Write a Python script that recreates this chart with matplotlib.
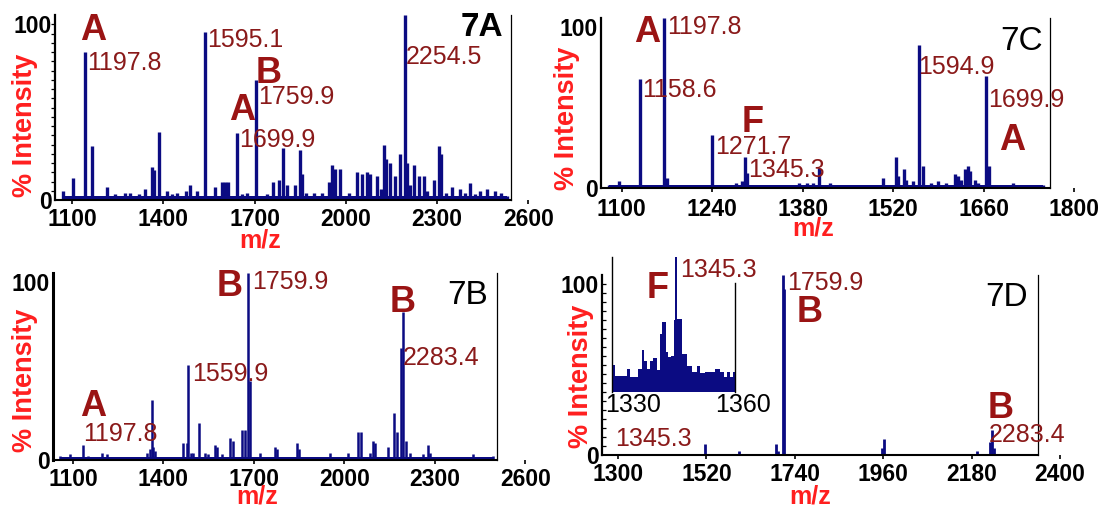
import matplotlib
matplotlib.use("Agg")
import matplotlib.pyplot as plt

plt.rcParams["font.family"] = ["Liberation Sans", "DejaVu Sans"]

W, H = 1103, 507
NAVY = "#0b0b82"
DARKRED = "#8a1a1a"
RED = "#ff1f1f"

# ---- data (m/z, % intensity) ----
mz_a = [1071, 1104, 1143, 1165, 1214, 1240, 1274, 1291, 1320, 1340, 1362, 1370, 1387,
        1411, 1430, 1444, 1475, 1488, 1510, 1538, 1570, 1592, 1603, 1614, 1642, 1660,
        1675, 1705, 1740, 1762, 1779, 1793, 1808, 1834, 1850, 1856, 1870, 1894, 1920,
        1945, 1954, 1965, 1982, 2009, 2037, 2053, 2069, 2080, 2102, 2114, 2124, 2133,
        2146, 2162, 2179, 2193, 2201, 2212, 2223, 2239, 2256, 2267, 2289, 2305, 2311,
        2330, 2349, 2376, 2390, 2409, 2425, 2442, 2464, 2490, 2510, 2530]
int_a = [5, 12, 80, 29, 7, 3, 4, 4, 3, 6, 18, 16, 37,
         5, 3, 4, 5, 8, 5, 91, 7, 10, 10, 10, 36, 3,
         4, 65, 3, 10, 11, 28, 8, 8, 27, 14, 4, 4, 4,
         10, 19, 17, 17, 4, 15, 14, 15, 14, 13, 6, 30, 22,
         20, 13, 25, 100, 20, 8, 19, 13, 13, 5, 11, 29, 25,
         4, 7, 6, 4, 9, 3, 5, 6, 5, 4, 2]
floor_a = 2

mz_b = [1057, 1090, 1132, 1151, 1198, 1212, 1344, 1355, 1361, 1366, 1372, 1466, 1477,
        1482, 1490, 1499, 1519, 1538, 1548, 1571, 1578, 1593, 1620, 1629, 1661, 1670,
        1681, 1687, 1720, 1770, 1777, 1843, 1850, 1952, 2012, 2046, 2055, 2084, 2095,
        2101, 2145, 2165, 2173, 2189, 2195, 2204, 2217, 2261, 2278, 2283, 2427, 2493]
int_b = [2, 3, 8, 2, 4, 3, 4, 6, 32, 7, 5, 9, 9,
         51, 4, 4, 20, 4, 3, 8, 7, 3, 12, 10, 16, 16,
         100, 42, 4, 7, 6, 9, 6, 4, 4, 15, 15, 4, 10,
         9, 7, 25, 15, 60, 79, 10, 4, 3, 8, 4, 3, 2]
floor_b = 1.5

mz_c = [1081, 1096, 1112, 1128, 1148, 1165, 1170, 1185, 1200, 1222, 1239, 1252, 1262,
        1277, 1286, 1291, 1294, 1313, 1334, 1355, 1375, 1386, 1396, 1406, 1422, 1442,
        1468, 1489, 1505, 1524, 1527, 1537, 1540, 1551, 1560, 1566, 1579, 1589, 1602,
        1615, 1620, 1625, 1632, 1636, 1639, 1646, 1651, 1663, 1668, 1685, 1705, 1731, 1752]
int_c = [2, 4, 2, 64, 2, 100, 6, 2, 2, 2, 31, 2, 2,
         3, 4, 18, 9, 2, 2, 2, 3, 3, 3, 12, 3, 2,
         2, 2, 6, 18, 7, 11, 5, 4, 84, 13, 3, 4, 3,
         8, 7, 5, 11, 13, 10, 5, 3, 66, 13, 2, 3, 2, 2]
floor_c = 1.5

mz_d = [1516, 1602, 1693, 1699, 1710, 1713, 1956, 1962, 2194, 2227, 2232, 2236]
int_d = [6, 2, 6, 2, 100, 92, 4, 9, 2, 7, 14, 4]
floor_d = 0.8

# inset of 7D: zoom on the F peak
inset_edges = [1324.2, 1325.1, 1327.4, 1328.3, 1329.0, 1330.1, 1331.2, 1332.5, 1333.0,
               1333.7, 1334.6, 1335.4, 1336.6, 1337.4, 1337.9, 1339.0, 1339.6, 1340.3,
               1341.0, 1341.5, 1341.9, 1343.3, 1344.6, 1346.0, 1347.4, 1348.3, 1349.6,
               1352.3, 1353.7, 1354.8, 1355.5, 1356.4, 1357.2, 1357.8]
inset_vals = [20, 12, 12, 17, 11, 11, 17, 31, 23, 17, 23, 25, 16, 43, 52, 30, 26,
              27, 53, 100, 54, 28, 19, 15, 19, 14, 15, 17, 15, 11, 15, 11, 15]
inset_ticks = [1330, 1360]

ticks_a = [1100, 1400, 1700, 2000, 2300, 2600]
ticks_b = [1100, 1400, 1700, 2000, 2300, 2600]
ticks_c = [1100, 1240, 1380, 1520, 1660, 1800]
ticks_d = [1300, 1520, 1740, 1960, 2180, 2400]

panel_tags = ["7A", "7B", "7C", "7D"]
peaks_a = ["1197.8", "1595.1", "1759.9", "1699.9", "2254.5"]
peaks_b = ["1759.9", "2283.4", "1559.9", "1197.8"]
peaks_c = ["1197.8", "1158.6", "1594.9", "1699.9", "1271.7", "1345.3"]
peaks_d = ["1759.9", "2283.4", "1345.3", "1345.3"]
letters_a = ["A", "B", "A"]
letters_b = ["B", "B", "A"]
letters_c = ["A", "F", "A"]
letters_d = ["B", "B", "F"]

fig = plt.figure(figsize=(W / 100, H / 100), dpi=100)


def put(x, y, s, **kw):
    fig.text(x / W, 1 - y / H, s, **kw)


def panel(box, xlim, right_end, xticks, mz, inten, floor, lw, left_lw=1.6, minor_dir=None, pad=4):
    left, top, right, bottom = box
    ax = fig.add_axes([left / W, 1 - bottom / H, (right - left) / W, (bottom - top) / H])
    ax.set_xlim(*xlim)
    ax.set_ylim(0, 100)
    ax.fill_between([min(mz), max(mz)], 0, floor, color=NAVY, lw=0)
    ax.vlines(mz, 0, inten, color=NAVY, lw=lw)
    ax.spines["top"].set_visible(False)
    ax.spines["right"].set_position(("data", right_end))
    ax.spines["right"].set_linewidth(0.9)
    ax.spines["left"].set_linewidth(left_lw)
    ax.spines["bottom"].set_linewidth(1.5)
    ax.spines["bottom"].set_bounds(xlim[0], right_end)
    ax.set_xticks(xticks, [str(t) for t in xticks], fontsize=16.5, fontweight="bold")
    ax.set_yticks([0, 100], ["0", "100"], fontsize=16.5, fontweight="bold")
    ax.tick_params(axis="x", length=3, width=1.2, pad=pad)
    ax.tick_params(axis="y", length=0, pad=2)
    ax.get_yticklabels()[-1].set_va("top")
    if minor_dir:
        ax.set_yticks(range(0, 101, 5), minor=True)
        ax.tick_params(axis="y", which="minor", direction=minor_dir, length=3, width=0.9)
    return ax


ax_a = panel((55, 15, 530, 200), (1044, 2605), 2541, ticks_a, mz_a, int_a, floor_a, 2.4,
             minor_dir="out", pad=3)
ax_b = panel((53, 273, 527, 460), (1034, 2605), 2505, ticks_b, mz_b, int_b, floor_b, 1.8,
             left_lw=2.2, pad=3)
ax_c = panel((601, 18, 1076, 188), (1068, 1803), 1762, ticks_c, mz_c, int_c, floor_c, 2.4,
             pad=4)
ax_d = panel((602, 275, 1062, 455), (1260, 2405), 2345, ticks_d, mz_d, int_d, floor_d, 2.0,
             minor_dir="in", pad=3)

# inset in 7D
axi = fig.add_axes([612 / W, 1 - 392 / H, (745 - 612) / W, (392 - 257) / H])
axi.stairs(inset_vals, inset_edges, fill=True, color=NAVY)
axi.set_xlim(1324.2, 1360.5)
axi.set_ylim(0, 100)
axi.patch.set_alpha(0)
axi.spines["top"].set_visible(False)
axi.spines["bottom"].set_visible(False)
axi.spines["left"].set_linewidth(1.0)
axi.spines["right"].set_linewidth(1.0)
axi.spines["right"].set_position(("data", 1357.8))
axi.spines["right"].set_bounds(0, 81)
axi.set_xticks(inset_ticks, [str(t) for t in inset_ticks], fontsize=18)
axi.set_yticks([])
axi.tick_params(axis="x", length=0, pad=1)

# axis titles
for x, y in [(25, 125), (25, 380), (567, 118), (581, 376)]:
    put(x, y, "% Intensity", color=RED, fontsize=19.5, fontweight="bold",
        rotation=90, ha="center", va="center")
for x, y in [(260, 241), (257, 497), (813, 228), (810, 496)]:
    put(x, y, "m/z", color=RED, fontsize=18, fontweight="bold", ha="center", va="center")

# panel tags
tag_pos = [(503, 27), (488, 295), (1043, 42), (1028, 297)]
for tag, (x, y) in zip(panel_tags, tag_pos):
    put(x, y, tag, color="black", fontsize=24,
        fontweight="bold" if tag == "7A" else "normal", ha="right", va="center")

# peak mass labels
peak_pos = [
    (peaks_a, [(87, 63), (207, 40), (258, 97), (239, 140), (406, 57)]),
    (peaks_b, [(252, 282), (403, 358), (192, 374), (83, 434)]),
    (peaks_c, [(667, 27), (642, 90), (918, 67), (988, 100), (715, 147), (748, 170)]),
    (peaks_d, [(787, 283), (989, 435), (615, 439), (680, 270)]),
]
for texts, pos in peak_pos:
    for s, (x, y) in zip(texts, pos):
        put(x, y, s, color=DARKRED, fontsize=18, ha="left", va="center")

# fragment letters
letter_pos = [
    (letters_a, [(93, 31), (269, 73), (242, 110)]),
    (letters_b, [(230, 287), (403, 303), (93, 407)]),
    (letters_c, [(647, 32), (753, 122), (1012, 140)]),
    (letters_d, [(810, 313), (1001, 408), (658, 288)]),
]
for texts, pos in letter_pos:
    for s, (x, y) in zip(texts, pos):
        put(x, y, s, color="#9a1414", fontsize=26, fontweight="bold", ha="center", va="center")

fig.savefig("out.png", dpi=100)
